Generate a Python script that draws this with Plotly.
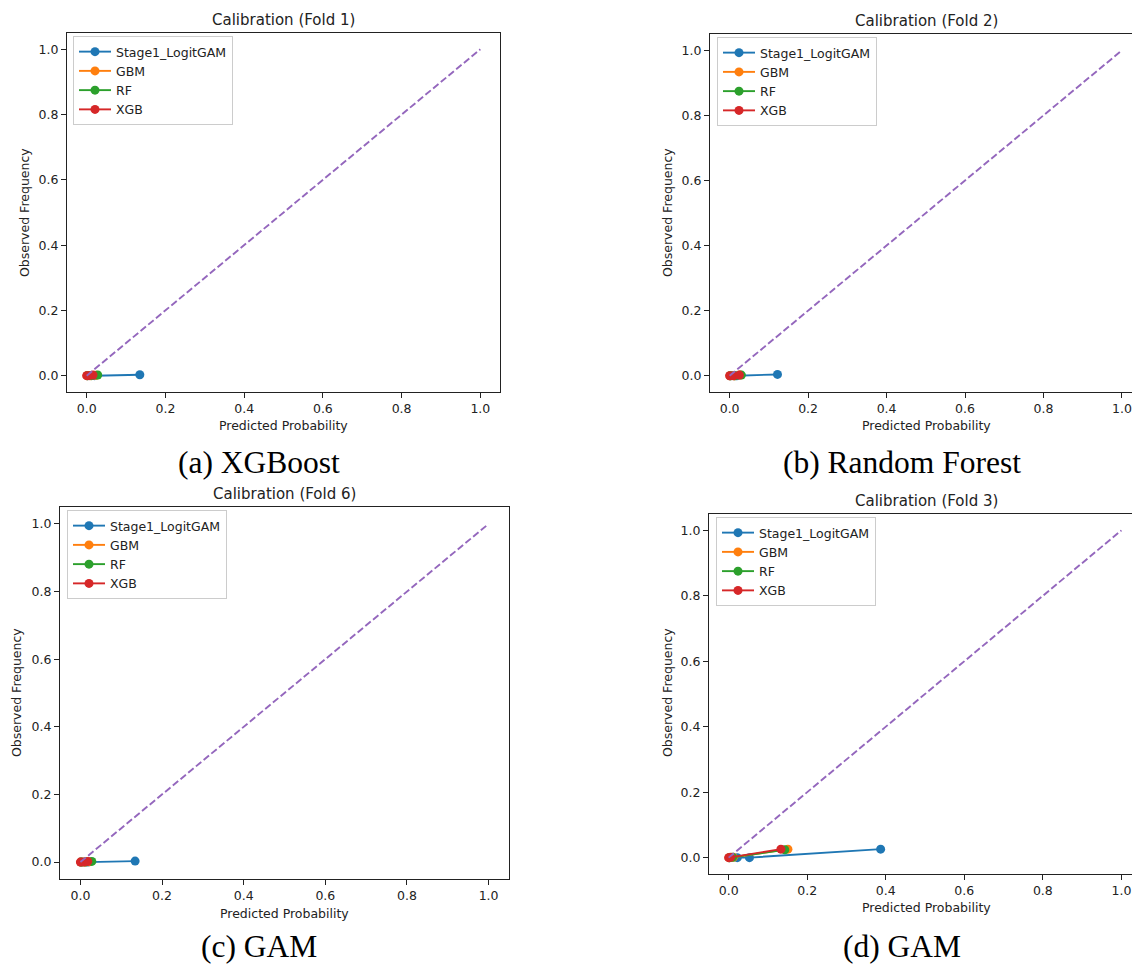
import plotly.graph_objects as go

W, H = 1132, 965

model_names = ["Stage1_LogitGAM", "GBM", "RF", "XGB"]
model_colors = ["#1f77b4", "#ff7f0e", "#2ca02c", "#d62728"]
diag_color = "#9467bd"

panel_titles = ["Calibration (Fold 1)", "Calibration (Fold 2)", "Calibration (Fold 6)", "Calibration (Fold 3)"]
panel_captions = ["(a) XGBoost", "(b) Random Forest", "(c) GAM", "(d) GAM"]
tick_vals = [0.0, 0.2, 0.4, 0.6, 0.8, 1.0]
tick_text = ["0.0", "0.2", "0.4", "0.6", "0.8", "1.0"]
diag_x = [0.0, 1.0]
diag_y = [0.0, 1.0]

# Fold 1 (a)
gam_x_a = [0.002, 0.020, 0.135]; gam_y_a = [0.0, 0.0, 0.003]
gbm_x_a = [0.001, 0.010, 0.024]; gbm_y_a = [0.0, 0.0, 0.001]
rf_x_a = [0.002, 0.012, 0.028];  rf_y_a = [0.0, 0.0, 0.002]
xgb_x_a = [0.000, 0.006, 0.016]; xgb_y_a = [0.0, 0.0, 0.002]
# Fold 2 (b)
gam_x_b = [0.002, 0.018, 0.122]; gam_y_b = [0.0, 0.0, 0.004]
gbm_x_b = [0.001, 0.012, 0.026]; gbm_y_b = [0.0, 0.0, 0.002]
rf_x_b = [0.002, 0.013, 0.030];  rf_y_b = [0.0, 0.0, 0.002]
xgb_x_b = [0.000, 0.010, 0.025]; xgb_y_b = [0.0, 0.0, 0.002]
# Fold 6 (c)
gam_x_c = [0.002, 0.018, 0.134]; gam_y_c = [0.0, 0.0, 0.003]
gbm_x_c = [0.001, 0.011, 0.022]; gbm_y_c = [0.0, 0.0, 0.001]
rf_x_c = [0.002, 0.012, 0.028];  rf_y_c = [0.0, 0.0, 0.002]
xgb_x_c = [0.000, 0.008, 0.018]; xgb_y_c = [0.0, 0.0, 0.002]
# Fold 3 (d)
gam_x_d = [0.003, 0.022, 0.053, 0.387]; gam_y_d = [0.0, 0.0, 0.0, 0.026]
gbm_x_d = [0.001, 0.012, 0.151];        gbm_y_d = [0.0, 0.001, 0.026]
rf_x_d = [0.002, 0.010, 0.143];         rf_y_d = [0.0, 0.001, 0.024]
xgb_x_d = [0.000, 0.005, 0.133];        xgb_y_d = [0.0, 0.001, 0.026]

panel_data = [
    [(gam_x_a, gam_y_a), (gbm_x_a, gbm_y_a), (rf_x_a, rf_y_a), (xgb_x_a, xgb_y_a)],
    [(gam_x_b, gam_y_b), (gbm_x_b, gbm_y_b), (rf_x_b, rf_y_b), (xgb_x_b, xgb_y_b)],
    [(gam_x_c, gam_y_c), (gbm_x_c, gbm_y_c), (rf_x_c, rf_y_c), (xgb_x_c, xgb_y_c)],
    [(gam_x_d, gam_y_d), (gbm_x_d, gbm_y_d), (rf_x_d, rf_y_d), (xgb_x_d, xgb_y_d)],
]

def px(x):
    return x / W

def py(y):
    return 1 - y / H

# layout geometry in pixels
geo = [
    dict(l=67, r=500, t=33, b=392, xend=1.05, clip=False,
         title=(283, 20), xlab=(283, 425), ylab=(24, 213), cap=(259, 462), leg=(73, 36)),
    dict(l=710, r=1132, t=34, b=392, xend=1.0255, clip=True,
         title=(926, 21), xlab=(926, 425), ylab=(667, 213), cap=(902, 462), leg=(717, 37)),
    dict(l=60, r=509, t=507, b=879, xend=1.05, clip=False,
         title=(284, 494), xlab=(284, 913), ylab=(16, 693), cap=(259, 946), leg=(67, 510)),
    dict(l=709, r=1132, t=514, b=874, xend=1.027, clip=True,
         title=(926, 501), xlab=(926, 907), ylab=(667, 693), cap=(902, 946), leg=(716, 517)),
]

fig = go.Figure()
font_fam = "DejaVu Sans"
annotations = []
layout_extra = {}

def ann(text, pos, font, angle=0):
    return dict(text=text, x=px(pos[0]), y=py(pos[1]), xref="paper", yref="paper",
                xanchor="center", yanchor="middle", showarrow=False, textangle=angle, font=font)

for i, g in enumerate(geo):
    n = i + 1
    xa = "x" if n == 1 else f"x{n}"
    ya = "y" if n == 1 else f"y{n}"
    leg = "legend" if n == 1 else f"legend{n}"
    for (xs, ys), name, col in zip(panel_data[i], model_names, model_colors):
        fig.add_trace(go.Scatter(
            x=xs, y=ys, mode="lines+markers", name=name,
            line=dict(color=col, width=1.9),
            marker=dict(color=col, size=9),
            xaxis=xa, yaxis=ya, legend=leg, legendgroup=f"{name}_{n}",
        ))
    fig.add_trace(go.Scatter(
        x=diag_x, y=diag_y, mode="lines", showlegend=False,
        line=dict(color=diag_color, width=1.9, dash="7px,3px"),
        xaxis=xa, yaxis=ya,
    ))
    axis_common = dict(
        showline=True, linecolor="#222", linewidth=1, ticks="outside", ticklen=5,
        tickwidth=1, tickcolor="#222", showgrid=False, zeroline=False,
        tickvals=tick_vals, ticktext=tick_text,
        tickfont=dict(family=font_fam, size=12.5, color="#222"),
    )
    layout_extra["xaxis" if n == 1 else f"xaxis{n}"] = dict(
        axis_common, domain=[px(g["l"]), min(1.0, px(g["r"]))],
        range=[-0.05, g["xend"]], anchor=ya, mirror=True, ticklabeloverflow="allow",
    )
    layout_extra["yaxis" if n == 1 else f"yaxis{n}"] = dict(
        axis_common, domain=[py(g["b"]), py(g["t"])],
        range=[-0.05, 1.05], anchor=xa, mirror=(not g["clip"]),
    )
    layout_extra[leg] = dict(
        x=px(g["leg"][0]), y=py(g["leg"][1]), xanchor="left", yanchor="top",
        bordercolor="#cccccc", borderwidth=1, bgcolor="rgba(255,255,255,0.8)",
        font=dict(family=font_fam, size=12.5, color="#222"),
        itemwidth=32, traceorder="grouped", tracegroupgap=0,
    )
    annotations.append(ann(panel_titles[i], g["title"], dict(family=font_fam, size=15, color="#222")))
    annotations.append(ann("Predicted Probability", g["xlab"], dict(family=font_fam, size=12.5, color="#222")))
    annotations.append(ann("Observed Frequency", g["ylab"], dict(family=font_fam, size=12.5, color="#222"), -90))
    annotations.append(ann(panel_captions[i], g["cap"], dict(family="Liberation Serif", size=31.5, color="black")))

fig.update_layout(
    width=W, height=H, margin=dict(l=0, r=0, t=0, b=0),
    paper_bgcolor="white", plot_bgcolor="white",
    annotations=annotations, **layout_extra,
)

fig.write_html("out.html", config={"displayModeBar": False},
               post_script="document.body.style.margin='0';document.body.style.overflow='hidden';")
